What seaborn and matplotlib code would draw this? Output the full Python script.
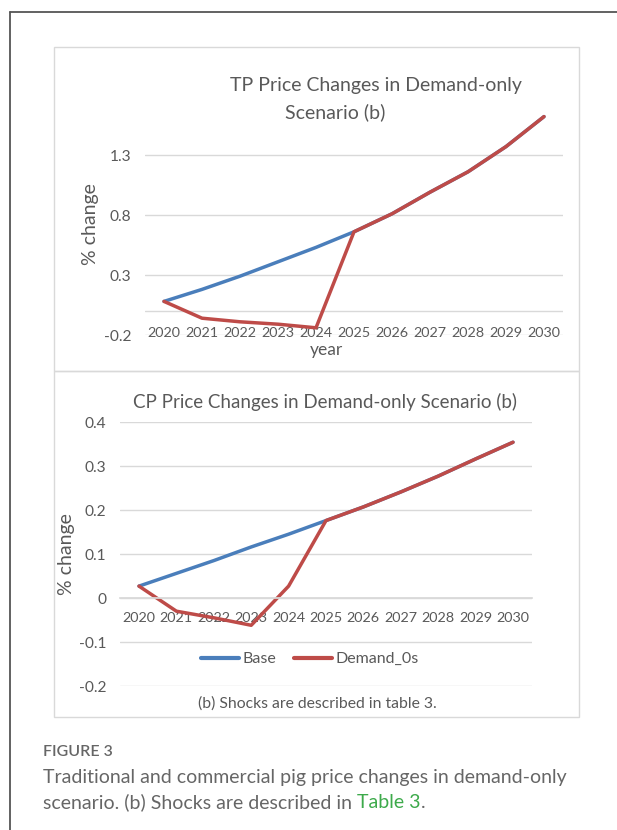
import matplotlib
matplotlib.use("Agg")
import matplotlib.pyplot as plt
from matplotlib.lines import Line2D
from matplotlib.patches import Rectangle
import pandas as pd
import seaborn as sns

# data
years = [2020, 2021, 2022, 2023, 2024, 2025, 2026, 2027, 2028, 2029, 2030]
tp_base = [0.08, 0.18, 0.29, 0.41, 0.53, 0.66, 0.81, 0.99, 1.16, 1.37, 1.62]
tp_demand = [0.08, -0.06, -0.09, -0.11, -0.14, 0.66, 0.81, 0.99, 1.16, 1.37, 1.62]
cp_base = [0.027, 0.056, 0.085, 0.116, 0.145, 0.176, 0.207, 0.241, 0.277, 0.316, 0.354]
cp_demand = [0.027, -0.030, -0.045, -0.062, 0.027, 0.176, 0.207, 0.241, 0.277, 0.316, 0.354]
series_names = ["Base", "Demand_0s"]
tp_yticks = [-0.2, 0.3, 0.8, 1.3]
cp_yticks = [-0.2, -0.1, 0, 0.1, 0.2, 0.3, 0.4]

W, H = 617, 830
BLUE = "#4A7EBB"
RED = "#BE4B48"
GRID = "#D9D9D9"
TXT = "#595959"

sns.set_theme(style="white")
plt.rcParams["font.family"] = ["Lato", "DejaVu Sans"]


def long_frame(base, demand):
    return pd.DataFrame({
        "year": years + years,
        "value": base + demand,
        "series": [series_names[0]] * len(years) + [series_names[1]] * len(years),
    })


def fig_axes(fig, left, top, right, bottom):
    return fig.add_axes([left / W, 1 - bottom / H, (right - left) / W, (bottom - top) / H])


def style_axes(ax, yticks, ylim):
    ax.set_xlim(years[0] - 0.5, years[-1] + 0.5)
    ax.set_ylim(*ylim)
    ax.set_xticks(years)
    ax.set_yticks(yticks)
    ax.set_yticklabels([f"{t:g}" for t in yticks])
    ax.grid(axis="y", color=GRID, lw=1)
    ax.grid(axis="x", visible=False)
    for s in ax.spines.values():
        s.set_visible(False)
    ax.tick_params(axis="both", length=0, labelcolor=TXT)
    ax.tick_params(axis="x", labelsize=10.4)
    ax.tick_params(axis="y", labelsize=11.2)
    ax.set_facecolor("none")


fig = plt.figure(figsize=(W / 100, H / 100), dpi=100)
fig.patch.set_facecolor("white")

# outer frame and chart boxes
fig.add_artist(Line2D([9.5 / W, 9.5 / W], [0, 1 - 12 / H], color="#555555", lw=1.3))
fig.add_artist(Line2D([9.5 / W, 1], [1 - 12 / H, 1 - 12 / H], color="#555555", lw=1.3))
fig.add_artist(Rectangle((54 / W, 1 - 371 / H), 525 / W, 324 / H, fill=False, ec=GRID, lw=1))
fig.add_artist(Rectangle((54 / W, 1 - 717 / H), 525 / W, 346 / H, fill=False, ec=GRID, lw=1))

palette = {series_names[0]: BLUE, series_names[1]: RED}

# top chart: TP
ax1 = fig_axes(fig, 145, 113, 563, 335)
sns.lineplot(data=long_frame(tp_base, tp_demand), x="year", y="value", hue="series",
             palette=palette, lw=2.5, ax=ax1, legend=False)
style_axes(ax1, tp_yticks, (-0.2, 1.65))
ax1.axhline(0, color=GRID, lw=1, zorder=0)
ax1.tick_params(axis="x", pad=-5.5)
ax1.tick_params(axis="y", pad=10)
ax1.set_ylabel("% change", fontsize=14, color=TXT, labelpad=3)
ax1.set_xlabel("year", fontsize=12.5, color=TXT)
ax1.xaxis.set_label_coords(0.433, -0.03)
fig.text(376 / W, 1 - 86 / H, "TP Price Changes in Demand-only", ha="center", va="center",
         fontsize=14, color=TXT)
fig.text(335 / W, 1 - 112 / H, "Scenario (b)", ha="center", va="center",
         fontsize=14, color=TXT)

# bottom chart: CP
ax2 = fig_axes(fig, 120.3, 422, 531.7, 686)
sns.lineplot(data=long_frame(cp_base, cp_demand), x="year", y="value", hue="series",
             palette=palette, lw=2.5, ax=ax2)
style_axes(ax2, cp_yticks, (-0.2, 0.4))
ax2.spines["bottom"].set_visible(True)
ax2.spines["bottom"].set_position(("data", 0))
ax2.spines["bottom"].set_color(GRID)
ax2.tick_params(axis="x", pad=10)
ax2.tick_params(axis="y", pad=10)
ax2.set_xlabel("")
ax2.set_ylabel("% change", fontsize=14, color=TXT, labelpad=3)
leg = ax2.legend(loc="center", bbox_to_anchor=(0.46, 0.102), ncol=2, frameon=False,
                 fontsize=11.5, handlelength=2.4, handletextpad=0.2, columnspacing=1.1,
                 borderaxespad=0)
for t in leg.get_texts():
    t.set_color(TXT)
for h in leg.get_lines():
    h.set_linewidth(3)
ax2.text(0.478, -0.066, "(b) Shocks are described in table 3.", transform=ax2.transAxes,
         ha="center", va="center", fontsize=11.3, color=TXT)
fig.text(325 / W, 1 - 402 / H, "CP Price Changes in Demand-only Scenario (b)", ha="center",
         va="center", fontsize=13.5, color=TXT)

# caption
CAP = "#666666"
CAP_FS = 14
fig.text(43 / W, 1 - 752 / H, "FIGURE 3", ha="left", va="center", fontsize=11.5,
         color=CAP, fontweight="semibold")
fig.text(43 / W, 1 - 777 / H, "Traditional and commercial pig price changes in demand-only",
         ha="left", va="center", fontsize=CAP_FS, color=CAP)
part = fig.text(43 / W, 1 - 802 / H, "scenario. (b) Shocks are described in ",
                ha="left", va="center", fontsize=CAP_FS, color=CAP)
renderer = fig.canvas.get_renderer()
bb = part.get_window_extent(renderer)
green = fig.text(bb.x1 / W, 1 - 802 / H, "Table 3", ha="left", va="center",
                 fontsize=CAP_FS, color="#3DAA4B")
bb2 = green.get_window_extent(renderer)
fig.text(bb2.x1 / W, 1 - 802 / H, ".", ha="left", va="center", fontsize=CAP_FS, color=CAP)

fig.savefig("out.png", dpi=100)
